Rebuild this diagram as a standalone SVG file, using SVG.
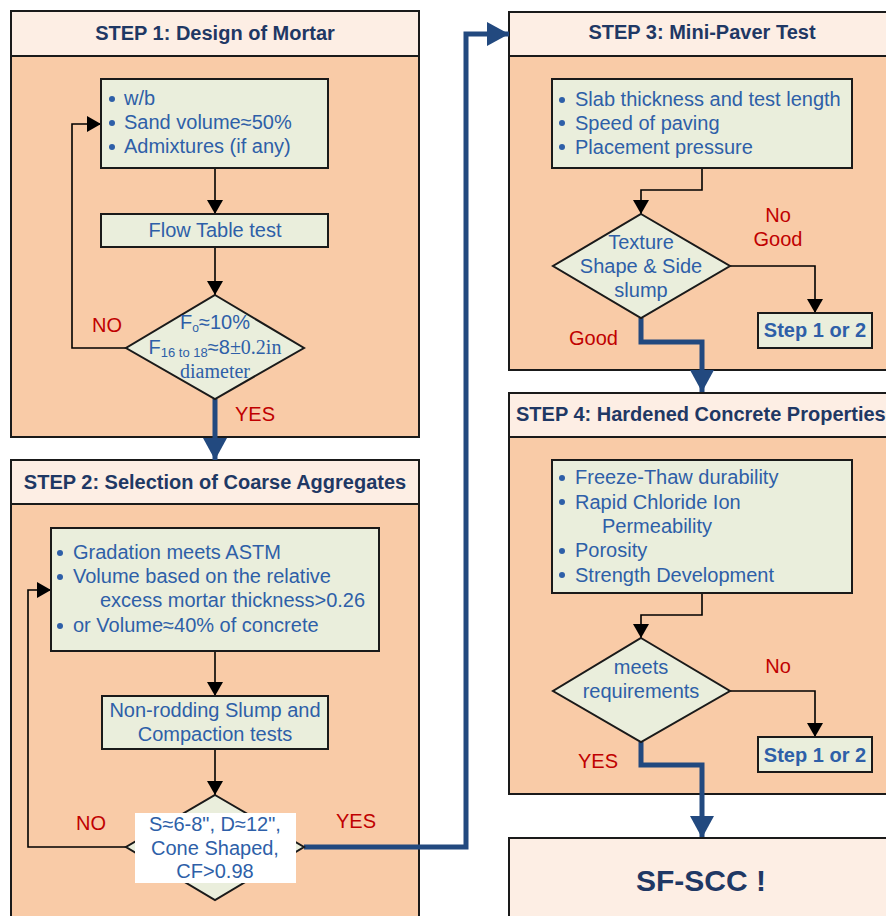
<svg xmlns="http://www.w3.org/2000/svg" width="886" height="916" viewBox="0 0 886 916">
<style>
.panel{fill:#F9CBA7;stroke:#1a1a1a;stroke-width:2}
.head{fill:#FDEEE4;stroke:#1a1a1a;stroke-width:2}
.box{fill:#EAEEDC;stroke:#1a1a1a;stroke-width:2}
.ht{font-family:"Liberation Sans",Arial,sans-serif;font-weight:bold;font-size:20px;fill:#1F3864}
.big{font-size:30px}
.t{font-family:"Liberation Sans",Arial,sans-serif;font-size:20px;fill:#2E5FA8}
.tm{font-family:"Liberation Serif","Times New Roman",serif;font-size:20px;fill:#2E5FA8}
.bt{font-family:"Liberation Sans",Arial,sans-serif;font-weight:bold;font-size:20px;fill:#2E5FA8}
.r{font-family:"Liberation Sans",Arial,sans-serif;font-size:20px;fill:#C00000}
.c{text-anchor:middle}
.dot{fill:#2E5FA8}
.thin{fill:none;stroke:#000;stroke-width:1.6}
.thick{fill:none;stroke:#22497F;stroke-width:5}
</style>
<defs>
<marker id="a" markerUnits="userSpaceOnUse" markerWidth="14" markerHeight="16" refX="14" refY="8" orient="auto"><path d="M0,0 L14,8 L0,16 z" fill="#000"/></marker>
<marker id="b" markerUnits="userSpaceOnUse" markerWidth="22" markerHeight="24" refX="22" refY="12" orient="auto"><path d="M0,0 L22,12 L0,24 z" fill="#22497F"/></marker>
</defs>
<rect width="886" height="916" fill="#fff"/>

<g id="step1">
<rect class="panel" x="11" y="11" width="408" height="426"/>
<rect class="head" x="11" y="11" width="408" height="45"/>
<text class="ht c" x="215" y="40">STEP 1: Design of Mortar</text>
</g>
<g id="step2">
<rect class="panel" x="11" y="460" width="408" height="480"/>
<rect class="head" x="11" y="460" width="408" height="44"/>
<text class="ht c" x="215" y="489">STEP 2: Selection of Coarse Aggregates</text>
</g>
<g id="step3">
<rect class="panel" x="509" y="12" width="400" height="358"/>
<rect class="head" x="509" y="12" width="400" height="44"/>
<text class="ht c" x="702" y="39">STEP 3: Mini-Paver Test</text>
</g>
<g id="step4">
<rect class="panel" x="509" y="393" width="400" height="401"/>
<rect class="head" x="509" y="393" width="400" height="44"/>
<text class="ht" x="516" y="421">STEP 4: Hardened Concrete Properties</text>
</g>

<g id="connectors">
<path class="thin" d="M215,168 V214" marker-end="url(#a)"/>
<path class="thin" d="M215,247 V295" marker-end="url(#a)"/>
<path class="thin" d="M126,348 H72 V124 H101" marker-end="url(#a)"/>
<path class="thick" d="M215,399 V460" marker-end="url(#b)"/>
<path class="thin" d="M215,651 V696" marker-end="url(#a)"/>
<path class="thin" d="M215,749 V795" marker-end="url(#a)"/>
<path class="thin" d="M126,847 H28 V590 H51" marker-end="url(#a)"/>
<path class="thick" d="M304,847 H466 V34 H509" marker-end="url(#b)"/>
<path class="thin" d="M702,168 V190 H641 V214" marker-end="url(#a)"/>
<path class="thin" d="M730,266 H815 V313" marker-end="url(#a)"/>
<path class="thick" d="M641,318 V342 H702 V392" marker-end="url(#b)"/>
<path class="thin" d="M702,593 V615 H641 V638" marker-end="url(#a)"/>
<path class="thin" d="M730,691 H815 V737" marker-end="url(#a)"/>
<path class="thick" d="M641,742 V765 H702 V838" marker-end="url(#b)"/>
</g>

<g id="mortar-params">
<rect class="box" x="101" y="79" width="227" height="89"/>
<circle class="dot" cx="112" cy="99" r="3"/>
<circle class="dot" cx="112" cy="123" r="3"/>
<circle class="dot" cx="112" cy="147" r="3"/>
<text class="t" x="124" y="105">w/b</text>
<text class="t" x="124" y="129">Sand volume≈50%</text>
<text class="t" x="124" y="153">Admixtures (if any)</text>
</g>
<g id="flow-table">
<rect class="box" x="101" y="214" width="227" height="33"/>
<text class="t c" x="215" y="237">Flow Table test</text>
</g>
<g id="decision1">
<polygon class="box" points="215,295 304,348 215,399 126,348"/>
<text class="t c" x="215" y="329">F<tspan font-size="12" dy="3">o</tspan><tspan dy="-3">≈10%</tspan></text>
<text class="t c" x="215" y="354">F<tspan font-size="13" dy="3">16 to 18</tspan><tspan dy="-3">≈8</tspan><tspan font-family="Liberation Serif,serif">±0.2in</tspan></text>
<text class="tm c" x="215" y="378">diameter</text>
<text class="r" x="92" y="332">NO</text>
<text class="r" x="235" y="421">YES</text>
</g>

<g id="aggregate-params">
<rect class="box" x="51" y="528" width="328" height="123"/>
<circle class="dot" cx="60" cy="553" r="3"/>
<circle class="dot" cx="60" cy="577" r="3"/>
<circle class="dot" cx="60" cy="626" r="3"/>
<text class="t" x="73" y="559">Gradation meets ASTM</text>
<text class="t" x="73" y="583">Volume based on the relative</text>
<text class="t" x="100" y="607">excess mortar thickness&gt;0.26</text>
<text class="t" x="73" y="632">or Volume≈40% of concrete</text>
</g>
<g id="slump-tests">
<rect class="box" x="102" y="696" width="226" height="53"/>
<text class="t c" x="215" y="717">Non-rodding Slump and</text>
<text class="t c" x="215" y="741">Compaction tests</text>
</g>
<g id="decision2">
<polygon class="box" points="215,795 304,847 215,900 126,847"/>
<rect x="135" y="813" width="161" height="70" fill="#fff"/>
<text class="t c" x="215" y="831">S≈6-8", D≈12",</text>
<text class="t c" x="215" y="855">Cone Shaped,</text>
<text class="t c" x="215" y="878">CF&gt;0.98</text>
<text class="r" x="76" y="830">NO</text>
<text class="r" x="336" y="828">YES</text>
</g>

<g id="paver-params">
<rect class="box" x="552" y="79" width="300" height="89"/>
<circle class="dot" cx="562" cy="100" r="3"/>
<circle class="dot" cx="562" cy="123" r="3"/>
<circle class="dot" cx="562" cy="147" r="3"/>
<text class="t" x="575" y="106">Slab thickness and test length</text>
<text class="t" x="575" y="130">Speed of paving</text>
<text class="t" x="575" y="154">Placement pressure</text>
</g>
<g id="decision3">
<polygon class="box" points="641,214 730,266 641,318 553,266"/>
<text class="t c" x="641" y="249">Texture</text>
<text class="t c" x="641" y="273">Shape &amp; Side</text>
<text class="t c" x="641" y="297">slump</text>
<text class="r c" x="778" y="222">No</text>
<text class="r c" x="778" y="246">Good</text>
<text class="r" x="569" y="345">Good</text>
</g>
<g id="back3">
<rect class="box" x="758" y="313" width="114" height="35"/>
<text class="bt c" x="815" y="337">Step 1 or 2</text>
</g>

<g id="hardened-params">
<rect class="box" x="552" y="460" width="300" height="133"/>
<circle class="dot" cx="562" cy="478" r="3"/>
<circle class="dot" cx="562" cy="502" r="3"/>
<circle class="dot" cx="562" cy="551" r="3"/>
<circle class="dot" cx="562" cy="575" r="3"/>
<text class="t" x="575" y="484">Freeze-Thaw durability</text>
<text class="t" x="575" y="509">Rapid Chloride Ion</text>
<text class="t" x="602" y="533">Permeability</text>
<text class="t" x="575" y="557">Porosity</text>
<text class="t" x="575" y="582">Strength Development</text>
</g>
<g id="decision4">
<polygon class="box" points="641,638 730,691 641,742 553,691"/>
<text class="t c" x="641" y="674">meets</text>
<text class="t c" x="641" y="698">requirements</text>
<text class="r c" x="778" y="673">No</text>
<text class="r" x="578" y="768">YES</text>
</g>
<g id="back4">
<rect class="box" x="758" y="737" width="114" height="35"/>
<text class="bt c" x="815" y="762">Step 1 or 2</text>
</g>

<g id="result">
<rect class="head" x="509" y="838" width="400" height="100"/>
<text class="ht big c" x="701" y="891">SF-SCC !</text>
</g>
</svg>
